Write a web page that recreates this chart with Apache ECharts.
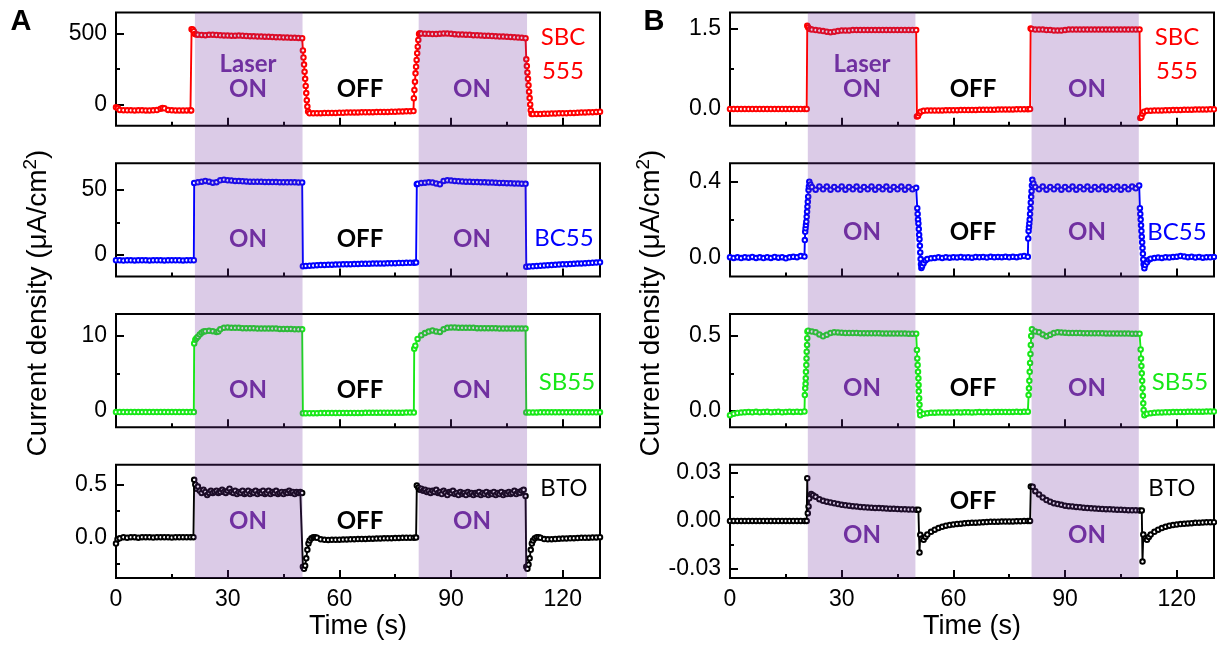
<!DOCTYPE html>
<html>
<head>
<meta charset="utf-8">
<script src="https://cdn.jsdelivr.net/npm/echarts@6/dist/echarts.min.js"></script>
<style>html,body{margin:0;padding:0;background:#fff}#c{width:1217px;height:647px}</style>
</head>
<body>
<div id="c"></div>
<script>
// ---------- DATA (time s, current density) ----------
const xTicks = [0, 30, 60, 90, 120];
const xMinorTicks = [15, 45, 75, 105];
const laserOnA = [[21.2, 50.1], [81.3, 110.4]];
const laserOnB = [[20.9, 49.8], [81.0, 109.8]];

// Panel A
const sbc555A = [[0,-20],[0.5,-25],[1,-38],[2,-40],[3,-41],[4,-41],[5,-42],[6,-41],[7,-41],[8,-42],[9,-42],[10,-41],[11,-39],[12,-30],[12.5,-24],[13,-27],[14,-38],[15,-41],[16,-42],[17,-42],[18,-42],[19,-42],[20,-41],[20.2,-42],
[20.3,528],[20.6,526],[20.9,515],[21.2,495],[21.6,492],[22,490],[23,488],[24,487],[25,489],[26,490],[27,488],[28,486],[29,485],[30,484],[31,483],[32,483],[33,484],[34,483],[35,481],[36,480],[37,479],[38,478],[39,477],[40,476],[41,475],[42,474],[43,473],[44,472],[45,471],[46,470],[47,469],[48,468],[49,467],[50,466],
[50.2,380],[50.35,330],[50.5,280],[50.65,230],[50.8,180],[50.95,130],[51.1,80],[51.25,30],[51.4,-15],[51.6,-50],[52,-62],[53,-62],[54,-61],[55,-61],[56,-60],[57,-60],[58,-59],[59,-59],[60,-58],[61,-58],[62,-57],[63,-57],[64,-56],[65,-56],[66,-55],[67,-55],[68,-54],[69,-54],[70,-53],[71,-53],[72,-52],[73,-52],[74,-51],[75,-51],[76,-50],[77,-49],[78,-48],[79,-47],[79.9,-46],
[80,44],[80.15,102],[80.3,160],[80.45,219],[80.6,265],[80.75,313],[80.9,360],[81.05,406],[81.2,453],[81.4,495],[81.6,500],[82,498],[83,497],[84,496],[85,495],[86,495],[87,497],[88,499],[89,498],[90,496],[91,494],[92,492],[93,491],[94,490],[95,489],[96,487],[97,486],[98,485],[99,483],[100,482],[101,481],[102,479],[103,478],[104,477],[105,475],[106,474],[107,472],[108,470],[109,468],[110,466],
[110.2,317],[110.35,270],[110.5,225],[110.65,180],[110.8,135],[110.95,90],[111.1,45],[111.25,0],[111.4,-40],[111.6,-67],[112,-67],[113,-66],[114,-66],[115,-65],[116,-65],[117,-64],[118,-63],[119,-62],[120,-62],[121,-61],[122,-60],[123,-59],[124,-58],[125,-57],[126,-56],[127,-55],[128,-54],[129,-52],[130,-51]];

const bc55A = [[0,-4],[1,-4],[2,-4.2],[3,-4],[4,-4],[5,-4.1],[6,-4],[7,-4],[8,-4],[9,-4.1],[10,-4],[11,-4],[12,-4],[13,-4.1],[14,-4],[15,-4],[16,-4],[17,-4],[18,-4.1],[19,-4],[20,-4],[20.9,-4],
[21,55],[22,55.5],[23,56],[24,56.5],[25,56],[26,55.2],[27,55.6],[28,57],[29,57.5],[30,57],[31,56.8],[32,56.5],[33,56.4],[34,56.3],[35,56.2],[36,56],[37,56],[38,56],[39,55.9],[40,55.8],[41,55.8],[42,55.7],[43,55.7],[44,55.6],[45,55.6],[46,55.5],[47,55.5],[48,55.5],[49,55.4],[50,55.4],
[50.2,-8.5],[51,-8.3],[52,-8.1],[53,-8],[54,-7.8],[55,-7.7],[56,-7.6],[57,-7.5],[58,-7.4],[59,-7.3],[60,-7.2],[61,-7.1],[62,-7],[63,-7],[64,-6.9],[65,-6.8],[66,-6.7],[67,-6.7],[68,-6.6],[69,-6.5],[70,-6.5],[71,-6.4],[72,-6.4],[73,-6.3],[74,-6.3],[75,-6.2],[76,-6.1],[77,-6.1],[78,-6],[79,-6],[80,-5.9],[80.6,-5.8],
[80.8,54],[81,54.3],[82,55],[83,55.2],[84,55.5],[85,55.3],[86,54.6],[87,54],[88,56.5],[89,57],[90,56.8],[91,56.5],[92,56.3],[93,56.2],[94,56],[95,56],[96,55.8],[97,55.7],[98,55.6],[99,55.5],[100,55.4],[101,55.3],[102,55.2],[103,55],[104,55],[105,54.8],[106,54.7],[107,54.6],[108,54.5],[109,54.4],[110,54.3],
[110.2,-9],[111,-8.8],[112,-8.6],[113,-8.4],[114,-8.2],[115,-8],[116,-7.8],[117,-7.7],[118,-7.5],[119,-7.3],[120,-7.1],[121,-7],[122,-6.8],[123,-6.7],[124,-6.5],[125,-6.4],[126,-6.2],[127,-6.1],[128,-5.9],[129,-5.8],[130,-5.6]];

const sb55A = [[0,-0.2],[1,-0.2],[2,-0.2],[3,-0.2],[4,-0.2],[5,-0.2],[6,-0.2],[7,-0.2],[8,-0.2],[9,-0.2],[10,-0.2],[11,-0.2],[12,-0.2],[13,-0.2],[14,-0.2],[15,-0.2],[16,-0.2],[17,-0.2],[18,-0.2],[19,-0.2],[20,-0.2],[20.9,-0.2],
[21,9],[21.3,9.5],[21.6,9.7],[22,9.9],[22.5,10.2],[23,10.45],[23.5,10.6],[24,10.65],[25,10.7],[26,10.65],[27,10.55],[27.5,10.6],[28,10.9],[29,11.1],[30,11.15],[31,11.1],[32,11.1],[33,11.1],[34,11.05],[35,11.05],[36,11.05],[37,11.05],[38,11],[39,11],[40,11],[41,11],[42,11],[43,11],[44,10.95],[45,10.95],[46,10.95],[47,10.95],[48,10.9],[49,10.9],[50,10.9],
[50.2,-0.36],[51,-0.36],[52,-0.35],[53,-0.35],[54,-0.35],[55,-0.34],[56,-0.34],[57,-0.34],[58,-0.33],[59,-0.33],[60,-0.33],[61,-0.32],[62,-0.32],[63,-0.32],[64,-0.31],[65,-0.31],[66,-0.31],[67,-0.3],[68,-0.3],[69,-0.3],[70,-0.3],[71,-0.29],[72,-0.29],[73,-0.29],[74,-0.28],[75,-0.28],[76,-0.28],[77,-0.28],[78,-0.27],[79,-0.27],[80,-0.27],
[80.1,8.3],[80.4,8.7],[81,9.6],[82,10.1],[83,10.4],[84,10.6],[85,10.75],[86,10.6],[87,10.55],[88,10.9],[89,11.1],[90,11.15],[91,11.15],[92,11.1],[93,11.1],[94,11.1],[95,11.1],[96,11.1],[97,11.05],[98,11.05],[99,11.05],[100,11.05],[101,11.05],[102,11.05],[103,11],[104,11],[105,11],[106,11],[107,11],[108,11],[109,11],[110,11],
[110.2,-0.25],[111,-0.25],[112,-0.25],[113,-0.25],[114,-0.24],[115,-0.24],[116,-0.24],[117,-0.24],[118,-0.24],[119,-0.24],[120,-0.24],[121,-0.23],[122,-0.23],[123,-0.23],[124,-0.23],[125,-0.23],[126,-0.23],[127,-0.23],[128,-0.23],[129,-0.23],[130,-0.23]];

const btoA = [[0,-0.06],[0.4,-0.02],[1,-0.01],[2,0],[3,-0.005],[4,0],[5,0],[6,-0.004],[7,0],[8,0],[9,0],[10,-0.003],[11,0],[12,0],[13,0],[14,0],[15,-0.003],[16,0],[17,0],[18,0],[19,0],[20,0],[20.8,0],
[21,0.545],[21.3,0.5],[21.6,0.46],[22,0.48],[22.5,0.44],[23,0.42],[23.5,0.45],[24,0.43],[24.5,0.40],[25,0.42],[25.5,0.44],[26,0.42],[26.5,0.43],[27,0.44],[27.5,0.42],[28,0.43],[28.5,0.45],[29,0.43],[29.5,0.42],[30,0.44],[30.5,0.46],[31,0.43],[31.5,0.42],[32,0.44],[32.5,0.41],[33,0.43],[33.5,0.42],[34,0.44],[34.5,0.41],[35,0.42],[35.5,0.44],[36,0.41],[36.5,0.43],[37,0.42],[37.5,0.44],[38,0.41],[38.5,0.43],[39,0.42],[39.5,0.44],[40,0.41],[40.5,0.42],[41,0.44],[41.5,0.41],[42,0.43],[42.5,0.42],[43,0.44],[43.5,0.41],[44,0.42],[44.5,0.43],[45,0.41],[45.5,0.43],[46,0.42],[46.5,0.44],[47,0.42],[47.5,0.43],[48,0.41],[48.5,0.43],[49,0.42],[49.5,0.43],[50,0.42],
[50.2,-0.28],[50.5,-0.3],[50.8,-0.27],[51.1,-0.2],[51.4,-0.12],[51.7,-0.06],[52,-0.03],[52.5,-0.01],[53,0],[53.5,0],[54,-0.005],[55,-0.02],[56,-0.025],[57,-0.026],[58,-0.025],[59,-0.024],[60,-0.023],[61,-0.022],[62,-0.021],[63,-0.02],[64,-0.019],[65,-0.018],[66,-0.017],[67,-0.016],[68,-0.015],[69,-0.014],[70,-0.013],[71,-0.012],[72,-0.011],[73,-0.01],[74,-0.009],[75,-0.008],[76,-0.007],[77,-0.006],[78,-0.005],[79,-0.004],[80,-0.004],[80.6,-0.003],
[80.8,0.49],[81.2,0.47],[81.6,0.45],[82,0.46],[82.5,0.44],[83,0.45],[83.5,0.43],[84,0.44],[84.5,0.42],[85,0.44],[85.5,0.43],[86,0.45],[86.5,0.42],[87,0.43],[87.5,0.41],[88,0.44],[88.5,0.42],[89,0.4],[89.5,0.43],[90,0.42],[90.5,0.44],[91,0.41],[91.5,0.42],[92,0.4],[92.5,0.43],[93,0.41],[93.5,0.42],[94,0.4],[94.5,0.43],[95,0.41],[95.5,0.42],[96,0.4],[96.5,0.42],[97,0.41],[97.5,0.43],[98,0.4],[98.5,0.42],[99,0.41],[99.5,0.43],[100,0.4],[100.5,0.42],[101,0.41],[101.5,0.43],[102,0.4],[102.5,0.42],[103,0.41],[103.5,0.43],[104,0.4],[104.5,0.42],[105,0.41],[105.5,0.43],[106,0.41],[106.5,0.42],[107,0.44],[107.5,0.41],[108,0.43],[108.5,0.42],[109,0.44],[109.5,0.45],[110,0.39],
[110.2,-0.28],[110.5,-0.3],[110.8,-0.26],[111.1,-0.2],[111.4,-0.12],[111.7,-0.06],[112,-0.03],[112.5,-0.01],[113,0],[113.5,0],[114,-0.005],[115,-0.018],[116,-0.02],[117,-0.019],[118,-0.017],[119,-0.015],[120,-0.013],[121,-0.012],[122,-0.01],[123,-0.009],[124,-0.008],[125,-0.006],[126,-0.005],[127,-0.004],[128,-0.003],[129,-0.002],[130,0]];

// Panel B
const sbc555B = [[0,0],[1,0],[2,0],[3,0],[4,0],[5,0],[6,0],[7,0],[8,0],[9,0],[10,0],[11,0],[12,0],[13,0],[14,0],[15,0],[16,0],[17,0],[18,0],[19,0],[20,0],[20.6,0],
[20.75,1.56],[21,1.53],[21.5,1.5],[22,1.49],[23,1.48],[24,1.47],[25,1.46],[26,1.45],[27,1.44],[28,1.45],[29,1.46],[30,1.47],[31,1.47],[32,1.47],[33,1.48],[34,1.48],[35,1.48],[36,1.48],[37,1.48],[38,1.48],[39,1.48],[40,1.48],[41,1.48],[42,1.48],[43,1.48],[44,1.48],[45,1.48],[46,1.48],[47,1.48],[48,1.48],[49,1.48],[50,1.48],
[50.2,-0.14],[50.5,-0.13],[50.8,-0.08],[51.2,-0.05],[52,-0.035],[53,-0.03],[54,-0.029],[55,-0.028],[56,-0.027],[57,-0.026],[58,-0.025],[59,-0.024],[60,-0.023],[61,-0.022],[62,-0.021],[63,-0.02],[64,-0.019],[65,-0.018],[66,-0.017],[67,-0.016],[68,-0.015],[69,-0.014],[70,-0.013],[71,-0.012],[72,-0.011],[73,-0.01],[74,-0.009],[75,-0.008],[76,-0.007],[77,-0.006],[78,-0.005],[79,-0.004],[80,-0.003],[80.6,-0.002],
[80.75,1.51],[81,1.5],[82,1.49],[83,1.49],[84,1.49],[85,1.48],[86,1.48],[87,1.47],[88,1.47],[89,1.47],[90,1.48],[91,1.49],[92,1.49],[93,1.49],[94,1.49],[95,1.49],[96,1.49],[97,1.49],[98,1.49],[99,1.49],[100,1.49],[101,1.49],[102,1.49],[103,1.49],[104,1.49],[105,1.49],[106,1.49],[107,1.49],[108,1.49],[109,1.49],[110,1.49],
[110.2,-0.17],[110.5,-0.15],[110.8,-0.09],[111.2,-0.05],[112,-0.035],[113,-0.032],[114,-0.03],[115,-0.028],[116,-0.026],[117,-0.024],[118,-0.022],[119,-0.02],[120,-0.019],[121,-0.017],[122,-0.016],[123,-0.014],[124,-0.013],[125,-0.011],[126,-0.01],[127,-0.009],[128,-0.007],[129,-0.006],[130,-0.005]];

const bc55B = [[0,0.002],[1,-0.002],[2,0.001],[3,-0.003],[4,0.002],[5,-0.001],[6,0.003],[7,-0.002],[8,0.001],[9,-0.003],[10,0.002],[11,-0.002],[12,0.003],[13,-0.001],[14,0.002],[15,-0.004],[16,0.001],[17,0.004],[18,0.002],[19,0.008],[20,0.005],
[20.1,0.092],[20.2,0.136],[20.3,0.154],[20.4,0.171],[20.5,0.189],[20.6,0.215],[20.7,0.242],[20.8,0.268],[20.9,0.294],[21,0.321],[21.1,0.356],[21.2,0.374],[21.3,0.4],[21.6,0.385],[22,0.372],[23,0.358],[24,0.375],[25,0.36],[26,0.374],[27,0.358],[28,0.372],[29,0.36],[30,0.375],[31,0.358],[32,0.372],[33,0.36],[34,0.374],[35,0.358],[36,0.372],[37,0.36],[38,0.375],[39,0.358],[40,0.372],[41,0.36],[42,0.374],[43,0.358],[44,0.372],[45,0.36],[46,0.374],[47,0.358],[48,0.372],[49,0.36],[50,0.368],
[50.3,0.26],[50.4,0.23],[50.5,0.2],[50.6,0.18],[50.7,0.15],[50.8,0.12],[50.9,0.097],[51,0.062],[51.1,0.027],[51.2,-0.008],[51.3,-0.035],[51.4,-0.055],[51.6,-0.045],[52,-0.03],[52.5,-0.015],[53,-0.008],[54,-0.004],[55,-0.002],[56,0.001],[57,-0.002],[58,0.002],[59,-0.001],[60,0.002],[61,0],[62,0.003],[63,0],[64,0.002],[65,-0.001],[66,0.003],[67,0.001],[68,0.003],[69,0],[70,0.004],[71,0.001],[72,0.003],[73,0.002],[74,0.004],[75,0.001],[76,0.004],[77,0.002],[78,0.005],[79,0.008],[80,0.004],
[80.1,0.1],[80.2,0.14],[80.3,0.16],[80.4,0.18],[80.5,0.2],[80.6,0.23],[80.7,0.26],[80.8,0.29],[80.9,0.32],[81,0.35],[81.1,0.38],[81.2,0.41],[81.5,0.39],[82,0.372],[83,0.36],[84,0.374],[85,0.358],[86,0.372],[87,0.36],[88,0.375],[89,0.358],[90,0.372],[91,0.36],[92,0.374],[93,0.358],[94,0.372],[95,0.36],[96,0.374],[97,0.358],[98,0.372],[99,0.36],[100,0.374],[101,0.358],[102,0.372],[103,0.36],[104,0.374],[105,0.358],[106,0.372],[107,0.36],[108,0.374],[109,0.365],[109.9,0.38],
[110.1,0.26],[110.2,0.23],[110.3,0.2],[110.4,0.17],[110.5,0.14],[110.6,0.11],[110.7,0.08],[110.8,0.05],[110.9,0.02],[111,-0.01],[111.1,-0.035],[111.3,-0.057],[111.5,-0.04],[112,-0.025],[112.5,-0.012],[113,-0.006],[114,-0.003],[115,0],[116,-0.002],[117,0.002],[118,0],[119,0.003],[120,0.004],[121,0.008],[122,0.005],[123,0.002],[124,0.004],[125,0],[126,0.003],[127,-0.001],[128,0.002],[129,0.001],[130,0.003]];

const sb55B = [[0,-0.03],[1,-0.02],[2,-0.015],[3,-0.012],[4,-0.01],[5,-0.008],[6,-0.01],[7,-0.007],[8,-0.01],[9,-0.008],[10,-0.006],[11,-0.01],[12,-0.008],[13,-0.006],[14,-0.01],[15,-0.008],[16,-0.006],[17,-0.008],[18,-0.006],[19,-0.008],[20,-0.005],
[20.1,0.105],[20.2,0.15],[20.3,0.18],[20.35,0.217],[20.4,0.26],[20.5,0.306],[20.55,0.35],[20.6,0.395],[20.7,0.44],[20.75,0.485],[20.8,0.53],[21,0.535],[22,0.53],[23,0.525],[24,0.51],[25,0.498],[26,0.508],[27,0.52],[28,0.525],[29,0.524],[30,0.522],[31,0.52],[32,0.52],[33,0.52],[34,0.52],[35,0.519],[36,0.519],[37,0.518],[38,0.518],[39,0.518],[40,0.518],[41,0.517],[42,0.517],[43,0.517],[44,0.516],[45,0.516],[46,0.516],[47,0.516],[48,0.515],[49,0.515],[50,0.515],
[50.2,0.407],[50.3,0.35],[50.4,0.306],[50.5,0.26],[50.6,0.217],[50.65,0.172],[50.7,0.13],[50.8,0.083],[50.9,0.04],[51,-0.005],[51.1,-0.03],[52,-0.02],[53,-0.016],[54,-0.014],[55,-0.013],[56,-0.012],[57,-0.012],[58,-0.011],[59,-0.012],[60,-0.011],[61,-0.01],[62,-0.011],[63,-0.01],[64,-0.01],[65,-0.011],[66,-0.01],[67,-0.009],[68,-0.01],[69,-0.009],[70,-0.01],[71,-0.009],[72,-0.008],[73,-0.009],[74,-0.008],[75,-0.009],[76,-0.008],[77,-0.007],[78,-0.008],[79,-0.007],[80,-0.006],
[80.2,0.105],[80.3,0.15],[80.4,0.2],[80.5,0.26],[80.6,0.32],[80.7,0.38],[80.8,0.44],[80.9,0.5],[81.1,0.545],[82,0.53],[83,0.525],[84,0.51],[85,0.498],[86,0.508],[87,0.52],[88,0.525],[89,0.524],[90,0.522],[91,0.52],[92,0.52],[93,0.52],[94,0.52],[95,0.519],[96,0.519],[97,0.518],[98,0.518],[99,0.518],[100,0.518],[101,0.517],[102,0.517],[103,0.517],[104,0.516],[105,0.516],[106,0.516],[107,0.516],[108,0.515],[109,0.515],[110,0.515],
[110.3,0.41],[110.4,0.35],[110.5,0.3],[110.6,0.25],[110.7,0.2],[110.8,0.15],[110.9,0.1],[111,0.05],[111.1,0.005],[111.3,-0.03],[112,-0.02],[113,-0.016],[114,-0.014],[115,-0.012],[116,-0.011],[117,-0.01],[118,-0.01],[119,-0.009],[120,-0.009],[121,-0.008],[122,-0.008],[123,-0.007],[124,-0.007],[125,-0.006],[126,-0.006],[127,-0.006],[128,-0.005],[129,-0.005],[130,-0.005]];

const btoB = [[0,0],[1,0],[2,0],[3,0],[4,0],[5,0],[6,0],[7,0],[8,0],[9,0],[10,0],[11,0],[12,0],[13,0],[14,0],[15,0],[16,0],[17,0],[18,0],[19,0],[20,0],[20.6,0],
[20.75,0.0266],[20.9,0.0048],[21.1,0.009],[21.3,0.0141],[21.8,0.0168],[22.3,0.016],[23,0.015],[24,0.0135],[25,0.0125],[26,0.012],[27,0.0115],[28,0.011],[29,0.0105],[30,0.01],[31,0.0097],[32,0.0095],[33,0.0092],[34,0.009],[35,0.0087],[36,0.0085],[37,0.0083],[38,0.0082],[39,0.0081],[40,0.008],[41,0.0078],[42,0.0077],[43,0.0076],[44,0.0075],[45,0.0074],[46,0.0073],[47,0.0072],[48,0.0071],[49,0.0071],[50,0.007],[50.6,0.007],
[50.9,-0.0197],[51.1,-0.0087],[51.5,-0.011],[52,-0.0118],[52.5,-0.01],[53,-0.0085],[54,-0.0068],[55,-0.0055],[56,-0.0045],[57,-0.0037],[58,-0.003],[59,-0.0026],[60,-0.0022],[61,-0.0019],[62,-0.0017],[63,-0.0015],[64,-0.0013],[65,-0.0012],[66,-0.0011],[67,-0.001],[68,-0.0008],[69,-0.0007],[70,-0.0006],[71,-0.0006],[72,-0.0005],[73,-0.0004],[74,-0.0004],[75,-0.0003],[76,-0.0003],[77,-0.0002],[78,-0.0002],[79,-0.0001],[80,0],[80.6,0],
[80.8,0.0214],[81.3,0.0212],[82,0.0185],[83,0.0165],[84,0.0145],[85,0.013],[86,0.012],[87,0.011],[88,0.0105],[89,0.01],[90,0.0095],[91,0.0092],[92,0.009],[93,0.0087],[94,0.0085],[95,0.0082],[96,0.008],[97,0.0078],[98,0.0077],[99,0.0075],[100,0.0074],[101,0.0073],[102,0.0072],[103,0.0071],[104,0.007],[105,0.0069],[106,0.0068],[107,0.0067],[108,0.0066],[109,0.0066],[110,0.0065],[110.6,0.0065],
[110.8,-0.0253],[111,-0.0085],[111.5,-0.011],[112,-0.0118],[112.5,-0.01],[113,-0.0085],[114,-0.0068],[115,-0.0055],[116,-0.0045],[117,-0.0037],[118,-0.003],[119,-0.0026],[120,-0.0023],[121,-0.002],[122,-0.0018],[123,-0.0016],[124,-0.0014],[125,-0.0012],[126,-0.0011],[127,-0.001],[128,-0.0009],[129,-0.0008],[130,-0.0008]];

// y ticks and labels per subplot
const yTicksA = [[0, 500], [0, 50], [0, 10], [0, 0.5]];
const yLabelsA = [['0', '500'], ['0', '50'], ['0', '10'], ['0.0', '0.5']];
const yMinorA = [[250], [25], [5], [-0.25, 0.25]];
const yTicksB = [[0, 1.5], [0, 0.4], [0, 0.5], [-0.03, 0, 0.03]];
const yLabelsB = [['0.0', '1.5'], ['0.0', '0.4'], ['0.0', '0.5'], ['-0.03', '0.00', '0.03']];
const yMinorB = [[0.75], [0.2], [0.25], [-0.015, 0.015]];
const yRangeA = [[-149, 646], [-16.4, 70], [-2.23, 12.95], [-0.386, 0.688]];
const yRangeB = [[-0.313, 1.809], [-0.1, 0.497], [-0.11, 0.647], [-0.0355, 0.035]];

const seriesNames = ['SBC 555', 'BC55', 'SB55', 'BTO'];
const colors = ['#ff0000', '#0000ff', '#18e818', '#000000'];

// ---------- LAYOUT ----------
const PANELS = [
  {left: 116, width: 484, data: [sbc555A, bc55A, sb55A, btoA], ticks: yTicksA, labels: yLabelsA, minor: yMinorA, range: yRangeA, shade: laserOnA},
  {left: 730, width: 484, data: [sbc555B, bc55B, sb55B, btoB], ticks: yTicksB, labels: yLabelsB, minor: yMinorB, range: yRangeB, shade: laserOnB}
];
const ROW_TOPS = [12.5, 163.3, 314, 464.7];
const ROW_H = 113.2;
const AX_FONT = '"Liberation Sans", Arial, sans-serif';
const LBL_FONT = 'Lato, "Open Sans", sans-serif';
function tickStyle() { return {color: '#000', width: 2}; }

const grid = [], xAxis = [], yAxis = [], series = [];
PANELS.forEach((p, pi) => {
  for (let r = 0; r < 4; r++) {
    const g = grid.length;
    grid.push({left: p.left, width: p.width, top: ROW_TOPS[r], height: ROW_H, show: true,
      borderColor: '#000', borderWidth: 2});
    const xi = xAxis.length;
    xAxis.push({type: 'value', gridIndex: g, min: 0, max: 130, position: 'bottom',
      axisLine: {show: false, onZero: false}, splitLine: {show: false},
      axisTick: {show: true, inside: true, length: 8, customValues: xTicks, lineStyle: tickStyle()},
      axisLabel: {show: r === 3, customValues: xTicks, margin: 10, fontSize: 23, color: '#000', fontFamily: AX_FONT,
        formatter: v => String(v)}});
    xAxis.push({type: 'value', gridIndex: g, min: 0, max: 130, position: 'bottom',
      axisLine: {show: false, onZero: false}, splitLine: {show: false}, axisLabel: {show: false},
      axisTick: {show: true, inside: true, length: 4, customValues: xMinorTicks, lineStyle: tickStyle()}});
    const yi = yAxis.length;
    const ticks = p.ticks[r], labels = p.labels[r];
    yAxis.push({type: 'value', gridIndex: g, min: p.range[r][0], max: p.range[r][1], position: 'left',
      axisLine: {show: false, onZero: false}, splitLine: {show: false},
      axisTick: {show: true, inside: true, length: 8, customValues: ticks, lineStyle: tickStyle()},
      axisLabel: {show: true, customValues: ticks, margin: 9, fontSize: 23, color: '#000', fontFamily: AX_FONT,
        formatter: v => { const i = ticks.findIndex(t => Math.abs(t - v) < 1e-9); return i >= 0 ? labels[i] : ''; }}});
    yAxis.push({type: 'value', gridIndex: g, min: p.range[r][0], max: p.range[r][1], position: 'left',
      axisLine: {show: false, onZero: false}, splitLine: {show: false}, axisLabel: {show: false},
      axisTick: {show: true, inside: true, length: 4, customValues: p.minor[r], lineStyle: tickStyle()}});
    series.push({type: 'line', name: seriesNames[r], xAxisIndex: xi, yAxisIndex: yi, data: p.data[r],
      symbol: 'emptyCircle', symbolSize: 4.5, showSymbol: true, showAllSymbol: true,
      lineStyle: {color: colors[r], width: 1.9}, itemStyle: {color: colors[r], borderColor: colors[r], borderWidth: 1.4},
      z: 2, silent: true, animation: false});
  }
});
// overlay grids for the laser-on shading, spanning all four rows
PANELS.forEach((p) => {
  const g = grid.length;
  grid.push({left: p.left, width: p.width, top: ROW_TOPS[0], height: ROW_TOPS[3] + ROW_H - ROW_TOPS[0], show: false});
  const xi = xAxis.length, yi = yAxis.length;
  xAxis.push({type: 'value', gridIndex: g, min: 0, max: 130, show: false});
  yAxis.push({type: 'value', gridIndex: g, min: 0, max: 1, show: false});
  series.push({type: 'custom', xAxisIndex: xi, yAxisIndex: yi, data: p.shade, z: 10, silent: true, animation: false,
    renderItem: (params, api) => {
      const a = api.coord([api.value(0), 1]);
      const b = api.coord([api.value(1), 0]);
      return {type: 'rect', shape: {x: a[0], y: a[1], width: b[0] - a[0], height: b[1] - a[1]},
        style: {fill: 'rgba(112,48,160,0.25)'}};
    }});
});

// ---------- TEXT ----------
const PURPLE = '#7030a0';
function txt(text, x, y, fill, font) {
  return {type: 'text', x: x, y: y, z: 100, silent: true,
    style: {text: text, fill: fill, font: font, textAlign: 'center', textVerticalAlign: 'middle', align: 'center', verticalAlign: 'middle'}};
}
const onFont = 'bold 24px ' + LBL_FONT;
const lgFont = '24px ' + LBL_FONT;
const graphic = [
  txt('A', 21, 22, '#000', 'bold 29px ' + AX_FONT),
  txt('B', 654, 22, '#000', 'bold 29px ' + AX_FONT),
  // Panel A
  txt('Laser', 248, 64, PURPLE, onFont), txt('ON', 248, 89, PURPLE, onFont), txt('OFF', 360, 89, '#000', onFont), txt('ON', 472, 89, PURPLE, onFont),
  txt('SBC', 563, 37, colors[0], lgFont), txt('555', 563, 71, colors[0], lgFont),
  txt('ON', 248, 239, PURPLE, onFont), txt('OFF', 360, 239, '#000', onFont), txt('ON', 472, 239, PURPLE, onFont),
  txt('BC55', 564, 238, colors[1], lgFont),
  txt('ON', 248, 390, PURPLE, onFont), txt('OFF', 360, 390, '#000', onFont), txt('ON', 472, 390, PURPLE, onFont),
  txt('SB55', 567, 382, colors[2], lgFont),
  txt('ON', 248, 521, PURPLE, onFont), txt('OFF', 360, 521, '#000', onFont), txt('ON', 472, 521, PURPLE, onFont),
  txt('BTO', 564, 490, '#000', '23px ' + AX_FONT),
  // Panel B
  txt('Laser', 862, 64, PURPLE, onFont), txt('ON', 862, 89, PURPLE, onFont), txt('OFF', 973, 89, '#000', onFont), txt('ON', 1087, 89, PURPLE, onFont),
  txt('SBC', 1177, 37, colors[0], lgFont), txt('555', 1177, 71, colors[0], lgFont),
  txt('ON', 862, 232, PURPLE, onFont), txt('OFF', 973, 232, '#000', onFont), txt('ON', 1087, 232, PURPLE, onFont),
  txt('BC55', 1177, 232, colors[1], lgFont),
  txt('ON', 862, 388, PURPLE, onFont), txt('OFF', 973, 388, '#000', onFont), txt('ON', 1087, 388, PURPLE, onFont),
  txt('SB55', 1180, 382, colors[2], lgFont),
  txt('OFF', 973, 501, '#000', onFont), txt('ON', 862, 535, PURPLE, onFont), txt('ON', 1087, 535, PURPLE, onFont),
  txt('BTO', 1172, 490, '#000', '23px ' + AX_FONT),
  // axis titles
  txt('Time (s)', 358, 627, '#000', '27px ' + AX_FONT),
  txt('Time (s)', 972, 627, '#000', '27px ' + AX_FONT)
];
[38, 651].forEach(x => {
  graphic.push({type: 'text', x: x, y: 303, rotation: Math.PI / 2, z: 100, silent: true,
    style: {text: '{a|Current density (μA/cm}{s|2}{a|)}', fill: '#000', textAlign: 'center', textVerticalAlign: 'middle', align: 'center', verticalAlign: 'middle',
      rich: {a: {fontSize: 28, fontFamily: AX_FONT, fill: '#000', lineHeight: 34}, s: {fontSize: 19, fontFamily: AX_FONT, fill: '#000', verticalAlign: 'top', lineHeight: 34, padding: [0, 0, 10, 0]}}}});
});

const chart = echarts.init(document.getElementById('c'), null, {renderer: 'canvas'});
chart.setOption({animation: false, backgroundColor: '#fff', grid, xAxis, yAxis, series, graphic});
</script>
</body>
</html>
